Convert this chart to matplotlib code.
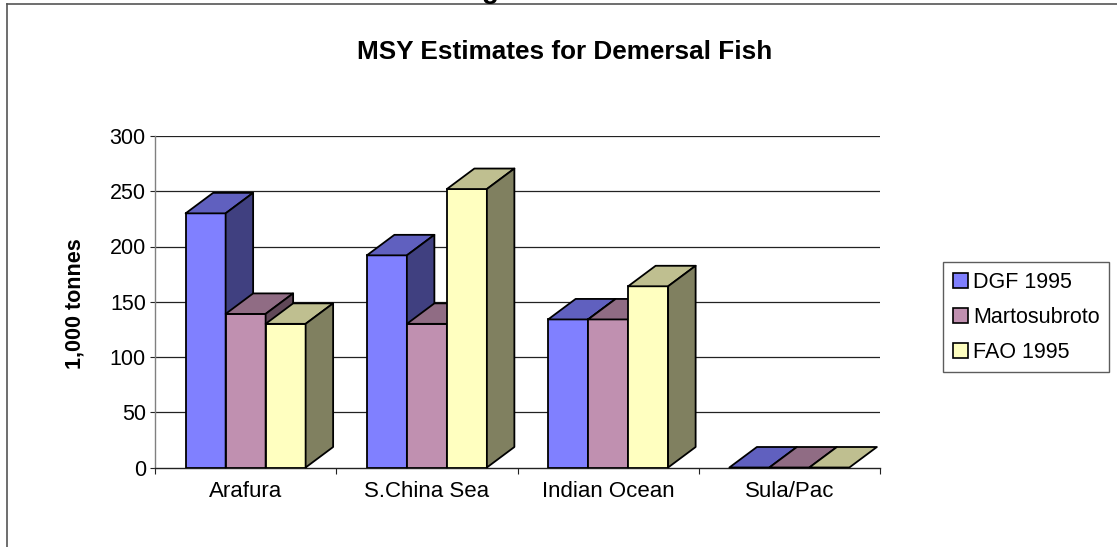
"""
MSY estimates for demersal fish by fishing area, drawn as an
Excel-style 3D column chart (front faces plus oblique top/side faces).
"""

import matplotlib
matplotlib.use("Agg")
import matplotlib.pyplot as plt
from matplotlib.patches import Polygon, Patch
from matplotlib.lines import Line2D
import numpy as np

plt.rcParams['font.family'] = ['Liberation Sans', 'DejaVu Sans']

# Data (1,000 tonnes)
areas = ['Arafura', 'S.China Sea', 'Indian Ocean', 'Sula/Pac']
series_names = ['DGF 1995', 'Martosubroto', 'FAO 1995']
dgf_1995 = [230, 192, 134, 0]
martosubroto = [139, 130, 134, 0]
fao_1995 = [130, 252, 164, 0]
y_ticks = [0, 50, 100, 150, 200, 250, 300]

FRONT_COLORS = ['#8080FF', '#C090B0', '#FFFFC0']


def shade(hex_color, factor):
    """Darken a colour for the top / side faces"""
    rgb = np.array(matplotlib.colors.to_rgb(hex_color))
    return tuple(rgb * factor)


def draw_bars(ax, values_by_series, depth_x, depth_y, bar_w):
    """Draw each column as a front face with an oblique top and side"""
    n_series = len(values_by_series)
    for i in range(len(areas)):
        for j, values in enumerate(values_by_series):
            v = values[i]
            left = i + 0.5 - n_series * bar_w / 2 + j * bar_w
            right = left + bar_w
            color = FRONT_COLORS[j]
            z = 3 + i * 10 + j * 3

            ax.bar(left, v, width=bar_w, align='edge', color=color,
                   edgecolor='black', linewidth=1.3, zorder=z)

            top = Polygon([(left, v), (right, v),
                           (right + depth_x, v + depth_y),
                           (left + depth_x, v + depth_y)],
                          closed=True, facecolor=shade(color, 0.75),
                          edgecolor='black', linewidth=1.3, zorder=z + 1,
                          clip_on=False, joinstyle='round')
            ax.add_patch(top)

            if v > 0:
                side = Polygon([(right, 0), (right + depth_x, depth_y),
                                (right + depth_x, v + depth_y), (right, v)],
                               closed=True, facecolor=shade(color, 0.5),
                               edgecolor='black', linewidth=1.3, zorder=z + 1,
                               clip_on=False, joinstyle='round')
                ax.add_patch(side)


def main():
    W, H = 1117, 547
    fig = plt.figure(figsize=(W / 100, H / 100), dpi=100)

    # Plot area in pixels: x 155..880, y (value 0) 467.5 .. (value 300) 136
    x0, x1 = 155, 880
    y0, y1 = 467.5, 136
    ax = fig.add_axes([x0 / W, (H - y0) / H, (x1 - x0) / W, (y0 - y1) / H])
    ax.set_xlim(0, len(areas))
    ax.set_ylim(0, 300)

    px_per_x = (x1 - x0) / len(areas)
    px_per_y = (y0 - y1) / 300
    depth_x = 27.5 / px_per_x
    depth_y = 20.5 / px_per_y
    bar_w = 40 / px_per_x

    # Gridlines
    for t in y_ticks[1:]:
        ax.axhline(t, color='#222222', linewidth=0.9, zorder=1)

    draw_bars(ax, [dgf_1995, martosubroto, fao_1995], depth_x, depth_y, bar_w)

    # Axes styling
    for s in ['top', 'right']:
        ax.spines[s].set_visible(False)
    ax.spines['left'].set_color('#808080')
    ax.spines['bottom'].set_color('#222222')
    ax.spines['left'].set_linewidth(1.0)
    ax.spines['bottom'].set_linewidth(1.0)

    ax.set_yticks(y_ticks)
    ax.tick_params(axis='y', direction='out', length=3.6, width=0.8,
                   color='#222222', labelsize=15.5, pad=3)

    ax.set_xticks(np.arange(len(areas) + 1))
    ax.set_xticklabels([])
    ax.set_xticks(np.arange(len(areas)) + 0.5, minor=True)
    ax.set_xticklabels(areas, minor=True)
    ax.tick_params(axis='x', which='major', direction='out', length=4,
                   width=0.8, color='#222222')
    ax.tick_params(axis='x', which='minor', length=0, labelsize=16, pad=10)

    # Titles
    fig.text(565 / W, (H - 59) / H, 'MSY Estimates for Demersal Fish',
             ha='center', va='baseline', fontsize=18.8, fontweight='bold')
    fig.text(75 / W, (H - 304) / H, '1,000 tonnes', rotation=90,
             ha='center', va='center', fontsize=15.5, fontweight='bold')
    # Descender of a heading cut off above the frame
    fig.text(490 / W, 1 + 2 / H, 'g', ha='center', va='baseline',
             fontsize=20, fontweight='bold')

    # Outer frame (top and left edges)
    fig.add_artist(Line2D([7 / W, 1], [(H - 4) / H] * 2, color='#555555',
                          linewidth=1.2, transform=fig.transFigure))
    fig.add_artist(Line2D([7 / W] * 2, [0, (H - 4) / H], color='#555555',
                          linewidth=1.2, transform=fig.transFigure))

    # Legend
    handles = [Patch(facecolor=c, edgecolor='black', linewidth=1.2)
               for c in FRONT_COLORS]
    leg = fig.legend(handles, series_names, loc='upper left',
                     bbox_to_anchor=(943 / W, (H - 262) / H),
                     fontsize=15.5, frameon=True, fancybox=False,
                     handlelength=0.7, handleheight=0.7, handletextpad=0.25,
                     labelspacing=0.65, borderpad=0.45, borderaxespad=0)
    leg.get_frame().set_edgecolor('#333333')
    leg.get_frame().set_linewidth(1.0)

    fig.savefig('out.png', dpi=100)
    plt.close(fig)


if __name__ == "__main__":
    main()
